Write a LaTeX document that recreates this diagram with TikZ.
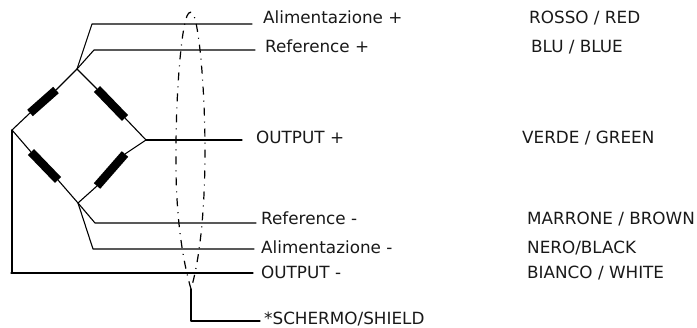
\documentclass[tikz,border=0pt]{standalone}
\usepackage{fontspec}
\setmainfont{DejaVu Sans}
\tikzset{
 x=1pt,y=-1pt,
 wire/.style={line width=1.1pt,line cap=round,line join=round},
 res/.style={line width=8.5pt},
 shieldline/.style={line width=1.2pt,dash pattern=on 8pt off 6pt on 1pt off 6pt},
 lbl/.style={anchor=base west,inner sep=0pt,font=\fontsize{16.8}{18}\selectfont,text=black!90},
}
\begin{document}
\begin{tikzpicture}
\useasboundingbox (0,0) rectangle (697,328);
% bridge vertices
\coordinate (T) at (77,69);
\coordinate (L) at (12,130);
\coordinate (R) at (146,140);
\coordinate (B) at (78,203);
% resistor ends
\coordinate (r1a) at (30,113); \coordinate (r1b) at (56,90);
\coordinate (r2a) at (97,89);  \coordinate (r2b) at (125,118);
\coordinate (r3a) at (31,152); \coordinate (r3b) at (58,180);
\coordinate (r4a) at (97,186); \coordinate (r4b) at (125,154);
\draw[wire] (L)--(r1a) (r1b)--(T) (T)--(r2a) (r2b)--(R);
\draw[wire] (L)--(r3a) (r3b)--(B) (B)--(r4a) (r4b)--(R);
\draw[res] (r1a)--(r1b);
\draw[res] (r2a)--(r2b);
\draw[res] (r3a)--(r3b);
\draw[res] (r4a)--(r4b);
% wires
\coordinate (w1a) at (92,24);  \coordinate (w1b) at (252,24);
\coordinate (w2a) at (94,50);  \coordinate (w2b) at (255,50);
\coordinate (w3b) at (242,140);
\coordinate (w4a) at (95,223); \coordinate (w4b) at (256,223);
\coordinate (w5a) at (93,249); \coordinate (w5b) at (254,249);
\coordinate (w6a) at (11,273); \coordinate (w6b) at (253,273);
\draw[wire] (T)--(w1a)--(w1b);
\draw[wire] (T)--(w2a)--(w2b);
\draw[wire] (R)--(w3b);
\draw[wire] (B)--(w4a)--(w4b);
\draw[wire] (B)--(w5a)--(w5b);
\draw[wire] (L)--(12,273);
\draw[wire] (w6a)--(w6b);
% shield
\coordinate (S) at (191,289);
\coordinate (Sc) at (191,321);
\coordinate (Se) at (260,321);
\draw[shieldline] (191,289) .. controls (183,262) and (175,215) .. (176,150)
  .. controls (176,95) and (181,30) .. (187,16)
  .. controls (189,11) and (192,11) .. (194,16)
  .. controls (200,32) and (205,95) .. (205,150)
  .. controls (205,215) and (199,262) .. (191,289);
\draw[wire] (S)--(Sc)--(Se);
% labels
\node[lbl] (a1) at (263,24) {Alimentazione +};
\node[lbl] (a2) at (265,53) {Reference +};
\node[lbl] (a3) at (256,144) {OUTPUT +};
\node[lbl] (a4) at (261,225) {Reference -};
\node[lbl] (a5) at (261,254) {Alimentazione -};
\node[lbl] (a6) at (261,279) {OUTPUT -};
\node[lbl] (a7) at (264,325) {*SCHERMO/SHIELD};
\node[lbl] (b1) at (529,24) {ROSSO / RED};
\node[lbl] (b2) at (531,53) {BLU / BLUE};
\node[lbl] (b3) at (522,144) {VERDE / GREEN};
\node[lbl] (b4) at (527,225) {MARRONE / BROWN};
\node[lbl] (b5) at (527,254) {NERO/BLACK};
\node[lbl] (b6) at (527,279) {BIANCO / WHITE};
\end{tikzpicture}
\end{document}
